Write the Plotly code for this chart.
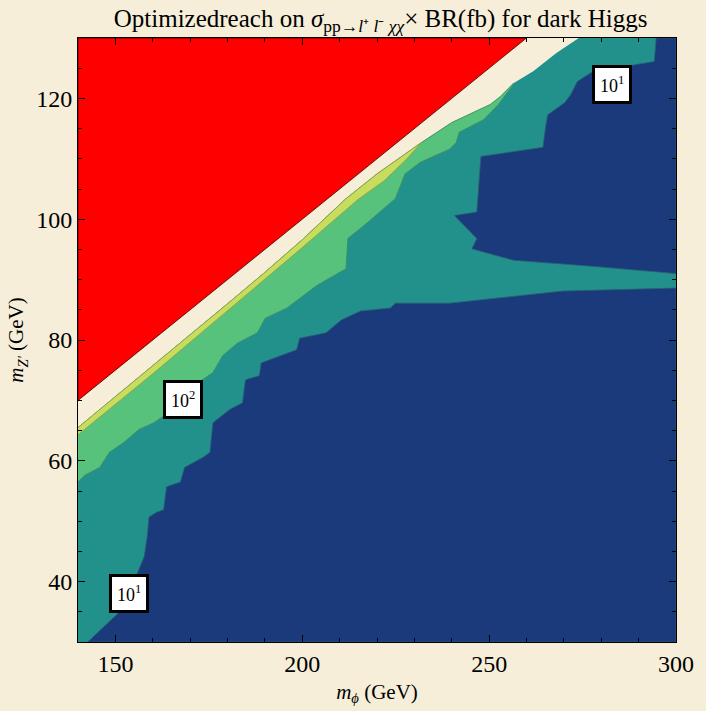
import plotly.graph_objects as go

# ---------------- data (in axis units) ----------------
x_range = [140, 300]
y_range = [30, 130]

# kinematic limit (red region above it)
red_edge_x = [140, 260]
red_edge_y = [70, 130]

# lower edge of the empty (cream) strip = top of the coloured region
cream_edge_x = [140, 150, 160, 170, 180, 190, 200, 211.7, 220, 231.9, 240, 250.3, 253, 256.5, 261.8, 268, 274]
cream_edge_y = [65.5, 70.6, 75.7, 80.9, 86.0, 91.2, 96.6, 103.4, 107.5, 112.7, 116.0, 119.0, 120.3, 122.5, 124.5, 127.5, 130]

# yellow / green boundary (10^3 contour), from the left edge to where it meets the strip
yellow_edge_x = [140, 160, 180, 200, 215, 222, 228, 231.9]
yellow_edge_y = [64.3, 74.4, 84.8, 95.3, 103.3, 106.4, 110.0, 112.7]

# green / teal boundary (10^2 contour)
green_edge_x = [140, 141.8, 145.8, 148.4, 152.4, 156.3, 160.3, 164.2, 166.9, 170.8, 176.1, 178.7, 182.7,
                188.0, 190.1, 195.9, 203.8, 211.7, 212.2, 217.0, 224.9, 227.5, 231.5, 239.4, 241.2,
                242.0, 248.6, 252.5, 256.5]
green_edge_y = [56.5, 57.6, 58.9, 61.4, 63.1, 65.2, 66.3, 68.0, 70.5, 72.4, 74.6, 77.4, 79.5,
                81.2, 83.6, 85.3, 89.0, 91.8, 96.8, 99.2, 103.4, 107.5, 109.4, 111.6, 112.7,
                114.4, 116.5, 119.0, 122.3]

# teal / dark-blue boundary, lower region (10^1 contour)
blue_low_x = [142.6, 147.9, 150.8, 153.7, 156.3, 157.7, 158.5, 159.0, 161.1, 162.9, 163.7, 167.4, 168.5,
              173.5, 175.3, 176.1, 180.6, 184.0, 184.8, 188.5, 189.0, 198.5, 199.3, 206.4, 210.4,
              215.6, 223.6, 224.9, 239.4, 251.2, 269.7, 300]
blue_low_y = [30, 33.0, 34.8, 38.1, 42.0, 44.1, 47.4, 50.7, 51.5, 51.9, 55.7, 56.5, 58.9,
              60.6, 61.4, 66.3, 68.5, 69.6, 73.4, 74.1, 76.2, 78.4, 80.3, 81.2, 83.3,
              84.8, 85.3, 86.1, 86.1, 86.9, 88.1, 88.6]

# teal / dark-blue boundary, upper-right region (10^1 contour)
blue_up_x = [294.7, 294.2, 277.6, 273.6, 271.8, 270.2, 265.7, 265.2, 264.4, 247.8, 246.7, 240.7,
             246.7, 245.4, 256.5, 277.6, 300]
blue_up_y = [130, 126.1, 124.4, 122.8, 120.6, 119.3, 117.3, 115.7, 111.9, 110.4, 101.2, 100.6,
             96.8, 95.1, 93.2, 92.2, 91.0]

# contour labels
label_x = [153.7, 168.2, 282.9]
label_y = [38.1, 70.1, 122.3]
label_text = ["10<sup>1</sup>", "10<sup>2</sup>", "10<sup>1</sup>"]

# ---------------- styling ----------------
BG = "#F6EED9"
RED = "#FF0000"
YELLOW = "#C8DC5E"
GREEN = "#57C27B"
TEAL = "#22918C"
BLUE = "#1B3A7B"
FONT = "Liberation Serif"

x0, x1 = x_range
y0, y1 = y_range

fig = go.Figure()


def poly(xs, ys, fill, line_color, width=0.8):
    fig.add_trace(go.Scatter(x=xs, y=ys, mode="lines", fill="toself", fillcolor=fill,
                             line=dict(color=line_color, width=width), hoverinfo="skip",
                             showlegend=False))


# teal: whole coloured region under the empty strip
poly([x0] + cream_edge_x + [x1, x1, x0], [y0] + cream_edge_y + [y1, y0, y0], TEAL, TEAL, 0)

# green band: between the strip edge and the green/teal contour
k = len([v for v in cream_edge_x if v <= green_edge_x[-1]])
poly(cream_edge_x[:k] + green_edge_x[::-1], cream_edge_y[:k] + green_edge_y[::-1], GREEN, "#3f8a66", 0.8)

# yellow band
k2 = len([v for v in cream_edge_x if v <= yellow_edge_x[-1]])
poly(cream_edge_x[:k2] + yellow_edge_x[::-1], cream_edge_y[:k2] + yellow_edge_y[::-1], YELLOW, "#8f9a45", 0.8)

# dark blue regions
poly(blue_low_x + [x1, blue_low_x[0]], blue_low_y + [y0, y0], BLUE, "#2a5f74", 0.8)
poly(blue_up_x + [x1, blue_up_x[0]], blue_up_y + [y1, y1], BLUE, "#2a5f74", 0.8)

# red excluded region
poly([red_edge_x[0], red_edge_x[1], x0, red_edge_x[0]], [red_edge_y[0], red_edge_y[1], y1, red_edge_y[0]],
     RED, "#400000", 0.8)

# contour labels
for lx, ly, lt in zip(label_x, label_y, label_text):
    fig.add_annotation(x=lx, y=ly, text=lt, showarrow=False, bgcolor="white",
                       bordercolor="black", borderwidth=3, borderpad=5,
                       font=dict(family=FONT, size=18, color="black"))

axis_common = dict(showgrid=False, zeroline=False, showline=True, linecolor="black", linewidth=1,
                   mirror="ticks", ticks="inside", ticklen=7, tickcolor="black", tickwidth=1,
                   tickfont=dict(family=FONT, size=24, color="black"))

fig.update_xaxes(range=x_range, tickvals=[150, 200, 250, 300],
                 minor=dict(tick0=140, dtick=10, ticks="inside", ticklen=4, tickcolor="black"),
                 title=dict(text="<i>m</i><sub><i>ϕ</i></sub> (GeV)", font=dict(family=FONT, size=21, color="black"),
                            standoff=8),
                 **axis_common)
fig.update_yaxes(range=y_range, tickvals=[40, 60, 80, 100, 120],
                 minor=dict(tick0=30, dtick=5, ticks="inside", ticklen=4, tickcolor="black"),
                 title=dict(text="<i>m</i><sub><i>Z'</i></sub> (GeV)", font=dict(family=FONT, size=21, color="black"),
                            standoff=6),
                 **axis_common)

fig.update_layout(
    width=706, height=711,
    margin=dict(l=78, r=21, t=38, b=65),
    paper_bgcolor=BG, plot_bgcolor=BG,
    title=dict(text="Optimizedreach on <i>σ</i><sub>pp→<i>l</i>⁺ <i>l</i>⁻ <i>χχ</i></sub>× BR(fb) for dark Higgs",
               font=dict(family=FONT, size=25, color="black"),
               xref="paper", x=0.506, xanchor="center", yref="container", y=0.975, yanchor="middle"),
)

fig.write_html("out.html")
